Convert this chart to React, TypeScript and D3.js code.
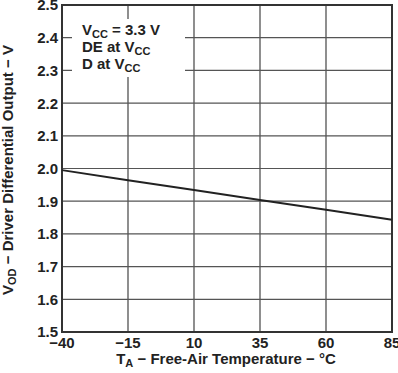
import React from "react";
import * as d3 from "d3";

// Chart values
const temps = [-40, -15, 10, 35, 60, 85];
const vod = [1.995, 1.964, 1.934, 1.904, 1.874, 1.843];
const xTicks = [-40, -15, 10, 35, 60, 85];
const yTicks = [1.5, 1.6, 1.7, 1.8, 1.9, 2.0, 2.1, 2.2, 2.3, 2.4, 2.5];

const App = () => {
    const width = 398;
    const height = 373;
    const margin = { top: 5, right: 6, bottom: 41, left: 62 };
    const font = "'Liberation Sans', Arial, sans-serif";

    // Scales
    const x = d3.scaleLinear().domain([-40, 85]).range([margin.left, width - margin.right]);
    const y = d3.scaleLinear().domain([1.5, 2.5]).range([height - margin.bottom, margin.top]);

    const line = d3.line<number>()
        .x((d, i) => x(temps[i]))
        .y((d) => y(d));

    const fmtNum = (t: number) => (t < 0 ? "\u2212" + Math.abs(t) : String(t));

    return (
        <svg width={width} height={height} style={{ position: "absolute", left: 0, top: 0 }}>
            <rect width={width} height={height} fill="#fff" />
            {/* grid */}
            {xTicks.map((t) => (
                <line key={"gx" + t} x1={x(t)} x2={x(t)} y1={y(2.5)} y2={y(1.5)} stroke="#444" strokeWidth={1.2} />
            ))}
            {yTicks.map((t) => (
                <line key={"gy" + t} x1={x(-40)} x2={x(85)} y1={y(t)} y2={y(t)} stroke="#555" strokeWidth={1.2} />
            ))}
            {/* annotation box */}
            <rect x={72} y={19} width={113} height={58} fill="#fff" />
            <g fontFamily={font} fontWeight="bold" fontSize={15} fill="#222">
                <text x={82} y={35}>V<tspan fontSize={11} dy={3}>CC</tspan><tspan dy={-3}> = 3.3 V</tspan></text>
                <text x={82} y={52}>DE at V<tspan fontSize={11} dy={3}>CC</tspan></text>
                <text x={82} y={69}>D at V<tspan fontSize={11} dy={3}>CC</tspan></text>
            </g>
            {/* frame */}
            <rect x={x(-40)} y={y(2.5)} width={x(85) - x(-40)} height={y(1.5) - y(2.5)} fill="none" stroke="#333" strokeWidth={2} />
            {/* curve */}
            <path d={line(vod) || ""} fill="none" stroke="#222" strokeWidth={2} />
            {/* y tick labels */}
            <g fontFamily={font} fontWeight="bold" fontSize={15} fill="#222">
                {yTicks.map((t) => (
                    <text key={"ly" + t} x={58} y={y(t)} dy="0.36em" textAnchor="end">{t.toFixed(1)}</text>
                ))}
                {xTicks.map((t) => (
                    <text key={"lx" + t} x={x(t)} y={y(1.5) + 16} textAnchor="middle">{fmtNum(t)}</text>
                ))}
            </g>
            {/* axis titles */}
            <g fontFamily={font} fontWeight="bold" fontSize={15} fill="#222">
                <text x={226} y={364} textAnchor="middle">T<tspan fontSize={11} dy={3}>A</tspan><tspan dy={-3}> {"\u2212"} Free-Air Temperature {"\u2212"} °C</tspan></text>
                <text transform="translate(13,170) rotate(-90)" textAnchor="middle">V<tspan fontSize={11} dy={3}>OD</tspan><tspan dy={-3}> {"\u2212"} Driver Differential Output {"\u2212"} V</tspan></text>
            </g>
        </svg>
    );
};

export default App;
